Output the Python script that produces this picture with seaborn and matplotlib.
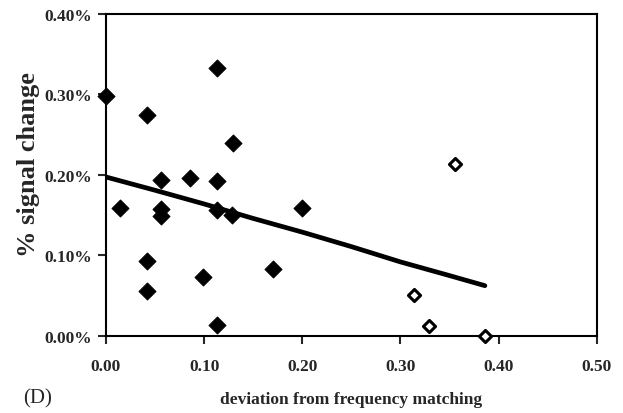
import numpy as np
import pandas as pd
import matplotlib
matplotlib.use("Agg")
import matplotlib.pyplot as plt
import seaborn as sns

# deviation from frequency matching vs % signal change
filled_x = [0.000, 0.014, 0.042, 0.042, 0.042, 0.056, 0.056, 0.056, 0.086,
            0.099, 0.113, 0.113, 0.113, 0.113, 0.129, 0.128, 0.170, 0.200]
filled_y = [0.298, 0.159, 0.275, 0.093, 0.056, 0.194, 0.158, 0.149, 0.196,
            0.073, 0.333, 0.192, 0.156, 0.014, 0.240, 0.150, 0.083, 0.159]
open_x = [0.314, 0.329, 0.356, 0.386]
open_y = [0.051, 0.012, 0.214, 0.000]
line_x = [0.000, 0.050, 0.100, 0.150, 0.200, 0.250, 0.300, 0.350, 0.386]
line_y = [0.1975, 0.181, 0.164, 0.146, 0.129, 0.111, 0.092, 0.075, 0.0625]

xticks = [0.0, 0.1, 0.2, 0.3, 0.4, 0.5]
yticks = [0.0, 0.1, 0.2, 0.3, 0.4]

filled = pd.DataFrame({"dev": filled_x, "sig": filled_y})
opened = pd.DataFrame({"dev": open_x, "sig": open_y})
trend = pd.DataFrame({"dev": line_x, "sig": line_y})

sns.set_style("ticks")
plt.rcParams["font.family"] = ["Liberation Serif", "DejaVu Serif"]

fig = plt.figure(figsize=(6.23, 4.14), dpi=100)
ax = fig.add_axes([0.170, 0.186, 0.788, 0.778])

sns.lineplot(data=trend, x="dev", y="sig", ax=ax, color="black", linewidth=3.4)
sns.scatterplot(data=filled, x="dev", y="sig", ax=ax, marker="D", s=75,
                color="black", edgecolor="black", clip_on=False, zorder=3)
sns.scatterplot(data=opened, x="dev", y="sig", ax=ax, marker="D", s=38,
                facecolor="white", edgecolor="black", linewidth=2.2,
                clip_on=False, zorder=3)

ax.set_xlim(0, 0.5)
ax.set_ylim(0, 0.4)
ax.set_xticks(xticks)
ax.set_yticks(yticks)
ax.set_xticklabels([f"{t:.2f}" for t in xticks])
ax.set_yticklabels([f"{t:.2f}%" for t in yticks])
ax.tick_params(direction="out", length=6, width=1.5, labelsize=12.5)
ax.tick_params(axis="x", pad=10)
ax.tick_params(axis="y", pad=4)
for lbl in ax.get_xticklabels() + ax.get_yticklabels():
    lbl.set_fontweight("bold")
for sp in ax.spines.values():
    sp.set_visible(True)
    sp.set_linewidth(1.5)
    sp.set_color("black")

ax.set_xlabel("deviation from frequency matching", fontsize=12.5, fontweight="bold", labelpad=12)
ax.set_ylabel("% signal change", fontsize=19, fontweight="bold")
ax.yaxis.set_label_coords(-0.135, 0.535)
fig.text(0.037, 0.025, "(D)", fontsize=15)

fig.savefig("out.png", dpi=100)
